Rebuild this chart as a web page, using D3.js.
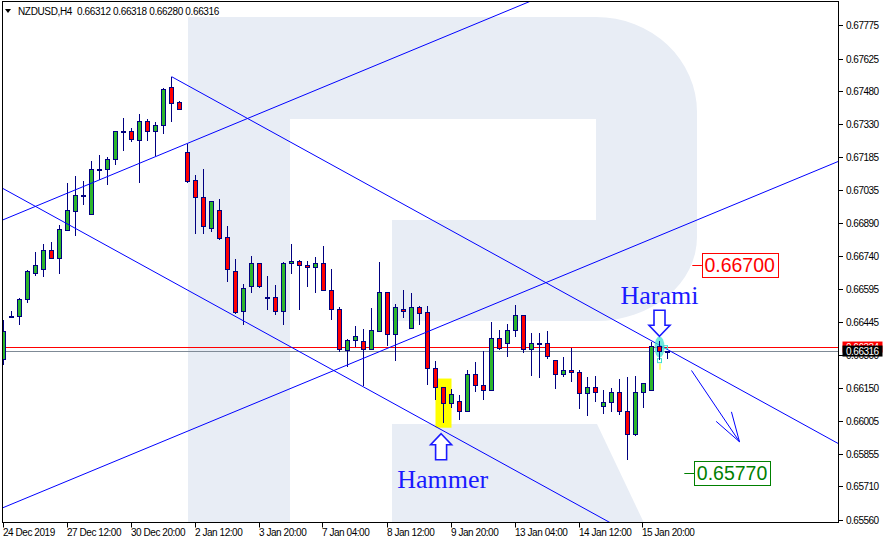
<!DOCTYPE html>
<html><head><meta charset="utf-8">
<script src="https://cdn.jsdelivr.net/npm/d3@7"></script>
<style>
body{margin:0;background:#fff;}
svg{display:block;}
text{font-family:"Liberation Sans",Arial,sans-serif;}
</style>
</head><body>
<svg id="c" width="885" height="544"></svg>
<script>
// ---------------- DATA ----------------
const titleText = "NZDUSD,H4  0.66312 0.66318 0.66280 0.66316";
const opens  = [0.66278,0.66471,0.66469,0.66546,0.66662,0.66679,0.66764,0.66732,0.66856,0.66941,
                0.67014,0.66929,0.67130,0.67130,0.67175,0.67297,0.67300,0.67260,0.67343,0.67300,
                0.67327,0.67497,0.67430,0.67206,0.67078,0.67005,0.66865,0.66947,0.66822,0.66674,
                0.66491,0.66603,0.66706,0.66556,0.66554,0.66491,0.66706,0.66715,0.66701,0.66688,
                0.66710,0.66589,0.66504,0.66317,0.66361,0.66357,0.66321,0.66405,0.66580,0.66388,
                0.66500,0.66415,0.66509,0.66487,0.66236,0.66151,0.66081,0.66089,0.66047,0.66209,
                0.66160,0.66141,0.66370,0.66348,0.66406,0.66473,0.66321,0.66352,0.66348,0.66272,
                0.66209,0.66227,0.66218,0.66124,0.66155,0.66066,0.66084,0.66129,0.66044,0.65941,
                0.66129,0.66138,0.66335,0.66312];
const highs  = [0.66457,0.66494,0.66554,0.66680,0.66761,0.66796,0.66804,0.66881,0.67068,0.67100,
                0.67078,0.67167,0.67194,0.67184,0.67301,0.67360,0.67313,0.67377,0.67355,0.67342,
                0.67495,0.67544,0.67434,0.67243,0.67102,0.67132,0.66989,0.66998,0.66875,0.66729,
                0.66616,0.66743,0.66710,0.66653,0.66610,0.66713,0.66796,0.66725,0.66720,0.66738,
                0.66787,0.66685,0.66515,0.66370,0.66428,0.66415,0.66509,0.66715,0.66582,0.66528,
                0.66589,0.66576,0.66518,0.66519,0.66270,0.66153,0.66147,0.66120,0.66233,0.66268,
                0.66317,0.66446,0.66412,0.66437,0.66524,0.66475,0.66397,0.66397,0.66406,0.66274,
                0.66290,0.66330,0.66232,0.66200,0.66205,0.66141,0.66151,0.66192,0.66200,0.66205,
                0.66174,0.66357,0.66360,0.66318];
const lows   = [0.66255,0.66464,0.66431,0.66531,0.66650,0.66646,0.66726,0.66661,0.66853,0.66833,
                0.66971,0.66927,0.67082,0.67057,0.67149,0.67213,0.67251,0.67068,0.67254,0.67187,
                0.67287,0.67343,0.67397,0.67068,0.66838,0.66838,0.66849,0.66814,0.66623,0.66482,
                0.66431,0.66576,0.66596,0.66501,0.66479,0.66431,0.66661,0.66498,0.66601,0.66574,
                0.66583,0.66453,0.66312,0.66245,0.66335,0.66158,0.66319,0.66401,0.66337,0.66271,
                0.66464,0.66413,0.66433,0.66166,0.66096,0.65995,0.66059,0.66007,0.66044,0.66133,
                0.66098,0.66138,0.66321,0.66290,0.66379,0.66308,0.66205,0.66196,0.66281,0.66147,
                0.66200,0.66178,0.66057,0.66026,0.66089,0.66035,0.66044,0.66031,0.65829,0.65937,
                0.66062,0.66136,0.66278,0.66280];
const closes = [0.66404,0.66471,0.66546,0.66671,0.66701,0.66768,0.66732,0.66858,0.66943,0.67014,
                0.67014,0.67130,0.67130,0.67175,0.67297,0.67297,0.67264,0.67345,0.67300,0.67327,
                0.67488,0.67425,0.67398,0.67075,0.67005,0.66875,0.66983,0.66819,0.66679,0.66487,
                0.66598,0.66710,0.66607,0.66556,0.66491,0.66706,0.66715,0.66701,0.66688,0.66710,
                0.66585,0.66504,0.66321,0.66361,0.66379,0.66321,0.66406,0.66580,0.66388,0.66509,
                0.66491,0.66509,0.66482,0.66236,0.66151,0.66081,0.66120,0.66047,0.66209,0.66160,
                0.66141,0.66370,0.66326,0.66406,0.66473,0.66321,0.66352,0.66352,0.66290,0.66209,
                0.66227,0.66218,0.66124,0.66155,0.66129,0.66084,0.66129,0.66044,0.65941,0.66129,
                0.66169,0.66335,0.66312,0.66316];

const xTickIndex  = [0,8,16,24,32,40,48,56,64,72,80];
const xTickLabels = ["24 Dec 2019","27 Dec 12:00","30 Dec 20:00","2 Jan 12:00","3 Jan 20:00",
                     "7 Jan 04:00","8 Jan 12:00","9 Jan 20:00","13 Jan 04:00","14 Jan 12:00","15 Jan 20:00"];
const yTickValues = [0.67775,0.67625,0.67480,0.67330,0.67185,0.67035,0.66890,0.66740,
                     0.66595,0.66445,0.66300,0.66150,0.66005,0.65855,0.65710,0.65560];

const askPrice = 0.66334;
const bidPrice = 0.66316;

// trend lines: [index1, price1, index2, price2, extendLeft, extendRight]
const trendLines = [
  [0, 0.66904, 25, 0.67275, true, true],
  [0, 0.65616, 100, 0.67100, true, true],
  [21, 0.67544, 81, 0.66362, false, true],
  [0, 0.67042, 60, 0.65860, true, true]
];
const forecastArrow = [86, 0.66229, 92, 0.65910];
const targetLevels = [
  {price:0.66700, dashFrom:86.1, boxAt:87.3, color:"#ff0000"},
  {price:0.65770, dashFrom:85.1, boxAt:86.35, color:"#008000"}
];
const hammerBox = [54, 0.66193, 56, 0.65973];
const patternArrows = [
  {name:"Harami", dir:"down", tipIndex:82, tipPrice:0.66382, textIndex:82, textPrice:0.66527},
  {name:"Hammer", dir:"up",   tipIndex:54.7, tipPrice:0.65946, textIndex:54.9, textPrice:0.65704}
];
const haramiIndex = 82;

// ---------------- CHART ----------------
const svg = d3.select("#c");
const L = 2.5, R = 838.5, T = 1.5, B = 522.5;
const x = d3.scaleLinear().domain([0, 83]).range([3.5, 667.5]);
const y = d3.scaleLinear().domain([0.65560, 0.67775]).range([520, 25]);
const navy = "#000080", green = "#2db52d", red = "#ff0000", blue = "#0000ff";

svg.append("rect").attr("width",885).attr("height",544).attr("fill","#fff");

// watermark logo (background decoration)
const wm = svg.append("g").attr("fill","#e8edf5");
wm.append("rect").attr("x",188).attr("y",17).attr("width",102).attr("height",506);
wm.append("path").attr("d","M290,17 H596 A101,95 0 0 1 697,112 V237 A101,84 0 0 1 596,321 H392 V220 H596 V119 H290 Z");
wm.append("path").attr("d","M392,424 H597 L644,523 H392 Z");

svg.append("defs").append("clipPath").attr("id","plot")
  .append("rect").attr("x",L).attr("y",T).attr("width",R-L).attr("height",B-T);
const g = svg.append("g").attr("clip-path","url(#plot)");

// hammer highlight
g.append("rect")
  .attr("x", x(hammerBox[0])).attr("y", y(hammerBox[1]))
  .attr("width", x(hammerBox[2]) - x(hammerBox[0]))
  .attr("height", y(hammerBox[3]) - y(hammerBox[1]))
  .attr("fill","#ffff00");

// ask / bid lines
g.append("line").attr("x1",L).attr("x2",R).attr("y1",Math.round(y(askPrice))+0.5).attr("y2",Math.round(y(askPrice))+0.5)
  .attr("stroke","#ff0000").attr("stroke-width",1);
g.append("line").attr("x1",L).attr("x2",R).attr("y1",Math.round(y(bidPrice))+0.5).attr("y2",Math.round(y(bidPrice))+0.5)
  .attr("stroke","#7f8a96").attr("stroke-width",1);

// candles
const candles = opens.map((o,i)=>({i,o,h:highs[i],l:lows[i],c:closes[i]}));
const cg = g.append("g").attr("shape-rendering","crispEdges");
cg.selectAll("line.wick").data(candles).enter().append("line")
  .attr("x1",d=>x(d.i)).attr("x2",d=>x(d.i))
  .attr("y1",d=>y(d.h)).attr("y2",d=>y(d.l))
  .attr("stroke",navy).attr("stroke-width",1);
cg.selectAll("rect.body").data(candles).enter().append("rect")
  .attr("x",d=>x(d.i)-2).attr("width",4)
  .attr("y",d=>y(Math.max(d.o,d.c)))
  .attr("height",d=>Math.max(1, y(Math.min(d.o,d.c)) - y(Math.max(d.o,d.c))))
  .attr("fill",d=>d.c>d.o?green:(d.c<d.o?red:navy))
  .attr("stroke",navy).attr("stroke-width",1);

// trend lines
trendLines.forEach(([i1,p1,i2,p2,eL,eR])=>{
  let x1=x(i1), y1=y(p1), x2=x(i2), y2=y(p2);
  const s=(y2-y1)/(x2-x1);
  let ax=x1, ay=y1, bx=x2, by=y2;
  if(eL){ ax=L-5; ay=y1+s*(ax-x1); }
  if(eR){ bx=R+5; by=y1+s*(bx-x1); }
  g.append("line").attr("x1",ax).attr("y1",ay).attr("x2",bx).attr("y2",by)
    .attr("stroke",blue).attr("stroke-width",1);
});

// forecast arrow
{
  const [i1,p1,i2,p2]=forecastArrow;
  const x1=x(i1),y1=y(p1),x2=x(i2),y2=y(p2);
  g.append("line").attr("x1",x1).attr("y1",y1).attr("x2",x2).attr("y2",y2).attr("stroke",blue).attr("stroke-width",1);
  const ang=Math.atan2(y1-y2,x1-x2);
  [-0.26,0.33].forEach(da=>{
    g.append("line").attr("x1",x2).attr("y1",y2)
      .attr("x2",x2+31*Math.cos(ang+da)).attr("y2",y2+31*Math.sin(ang+da))
      .attr("stroke",blue).attr("stroke-width",1);
  });
}

// harami highlight glyphs
{
  const cx=x(haramiIndex);
  g.append("ellipse").attr("cx",cx).attr("cy",y(0.66334)).attr("rx",5).attr("ry",10.5)
    .attr("fill","#40e0d0").attr("opacity",0.75);
  g.append("rect").attr("x",cx-2).attr("y",y(0.66282)).attr("width",4).attr("height",4)
    .attr("fill","none").attr("stroke","#40e0d0").attr("stroke-width",1);
  g.append("rect").attr("x",cx+4).attr("y",y(0.66340)).attr("width",4).attr("height",3)
    .attr("fill","none").attr("stroke","#40e0d0").attr("stroke-width",1);
  g.append("line").attr("x1",cx+0.5).attr("x2",cx+0.5).attr("y1",y(0.66260)).attr("y2",y(0.66232))
    .attr("stroke","#ffff00").attr("stroke-width",1);
  // redraw the candle over the glyph
  const d=candles[haramiIndex];
  g.append("line").attr("x1",cx).attr("x2",cx).attr("y1",y(d.h)).attr("y2",y(d.l)).attr("stroke",navy).attr("shape-rendering","crispEdges");
  g.append("rect").attr("x",cx-2).attr("width",4).attr("y",y(d.o)).attr("height",y(d.c)-y(d.o))
    .attr("fill",red).attr("stroke",navy).attr("shape-rendering","crispEdges");
}

// pattern arrows and labels
patternArrows.forEach(a=>{
  const tx=x(a.tipIndex), ty=y(a.tipPrice);
  const s = a.dir==="down" ? -1 : 1;   // direction away from tip
  const hw=10.5, hh=11, sw=5.5, sl=15;
  const pts=[[tx,ty],[tx+hw,ty+s*hh],[tx+sw,ty+s*hh],[tx+sw,ty+s*(hh+sl)],
             [tx-sw,ty+s*(hh+sl)],[tx-sw,ty+s*hh],[tx-hw,ty+s*hh]];
  svg.append("path").attr("d","M"+pts.map(p=>p.join(",")).join("L")+"Z")
    .attr("fill","#fff").attr("stroke","#1a1aff").attr("stroke-width",1.6).attr("stroke-linejoin","miter");
  svg.append("text").attr("x",x(a.textIndex)).attr("y",y(a.textPrice))
    .attr("text-anchor","middle").attr("font-family","'Liberation Serif','Times New Roman',serif")
    .style("font-family","'Liberation Serif','Times New Roman',serif")
    .attr("font-size",26).attr("fill","#1a1aff").text(a.name);
});

// target level labels
targetLevels.forEach(t=>{
  const yy=y(t.price);
  const bx=x(t.boxAt);
  svg.append("line").attr("x1",x(t.dashFrom)).attr("x2",bx).attr("y1",Math.round(yy)+0.5).attr("y2",Math.round(yy)+0.5)
    .attr("stroke",t.color).attr("stroke-width",1);
  const txt=svg.append("text").attr("x",bx+2.5).attr("y",yy+7).attr("font-size",19.5)
    .attr("fill",t.color).text(t.price.toFixed(5));
  const w=txt.node().getComputedTextLength();
  svg.insert("rect","text").attr("x",Math.round(bx)+0.5).attr("y",Math.round(yy-12)+0.5)
    .attr("width",Math.round(w+5)).attr("height",24)
    .attr("fill","#fff").attr("stroke",t.color).attr("stroke-width",1);
});

// frame
svg.append("rect").attr("x",L).attr("y",T).attr("width",R-L).attr("height",B-T)
  .attr("fill","none").attr("stroke","#000").attr("stroke-width",1);

// y axis (right)
const ya = svg.append("g");
yTickValues.forEach(v=>{
  const yy=Math.round(y(v))+0.5;
  ya.append("line").attr("x1",R).attr("x2",R+4.5).attr("y1",yy).attr("y2",yy).attr("stroke","#000");
  ya.append("text").attr("x",846).attr("y",yy).attr("dy","0.36em").attr("font-size",10)
    .attr("letter-spacing",-0.5).attr("fill","#000").text(v.toFixed(5));
});
// ask & bid labels
[[askPrice,"#ff0000"],[bidPrice,"#000000"]].forEach(([p,col])=>{
  const yy=y(p);
  ya.append("rect").attr("x",842.5).attr("y",yy-5.5).attr("width",40).attr("height",11).attr("fill",col);
  ya.append("text").attr("x",846).attr("y",yy).attr("dy","0.36em").attr("font-size",10)
    .attr("letter-spacing",-0.5).attr("fill","#fff").text(p.toFixed(5));
});

// x axis (bottom)
const xa = svg.append("g");
xTickIndex.forEach((idx,k)=>{
  const xx=Math.round(x(idx))-0.5;
  xa.append("line").attr("x1",xx).attr("x2",xx).attr("y1",B).attr("y2",B+5).attr("stroke","#000");
  xa.append("text").attr("x",xx-0.5).attr("y",536).attr("font-size",10)
    .attr("letter-spacing",-0.45).attr("fill","#000").text(xTickLabels[k]);
});

// title
svg.append("path").attr("d","M5,9 L11,9 L8,13 Z").attr("fill","#000");
svg.append("text").attr("x",18).attr("y",14.5).attr("font-size",10).attr("letter-spacing",-0.35)
  .style("white-space","pre").attr("fill","#000").text(titleText);
</script>
</body></html>
